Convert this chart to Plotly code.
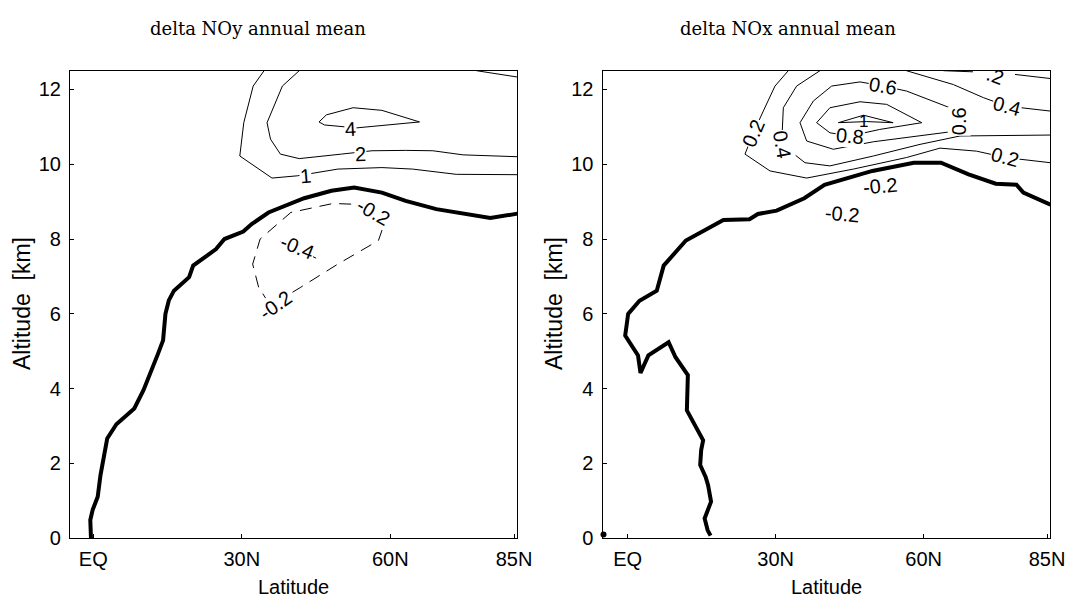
import plotly.graph_objects as go

# ---------------- data ----------------
lat_tickvals = [0, 30, 60, 85]
lat_ticktext = ["EQ", "30N", "60N", "85N"]
alt_tickvals = [0, 2, 4, 6, 8, 10, 12]

# Left panel: delta NOy, thick line (tropopause-like zero contour)
noy_thick_lat = [-0.46, -0.6, -0.12, 0.9, 1.46, 2.82, 4.67, 8.29, 10.14, 11.84, 13.07, 14.1, 14.58, 15.26,
                 16.3, 19.36, 20.18, 24.8, 26.5, 30.3, 32.0, 35.4, 42.6, 48.1, 52.7, 58.3, 63.1, 69.3,
                 74.7, 80.2, 85.7]
noy_thick_alt = [0.0, 0.49, 0.76, 1.11, 1.69, 2.67, 3.05, 3.47, 3.96, 4.49, 4.93, 5.29, 6.0, 6.36,
                 6.62, 6.98, 7.29, 7.73, 8.0, 8.2, 8.4, 8.71, 9.09, 9.29, 9.38, 9.24, 9.02, 8.8,
                 8.68, 8.56, 8.68]
noy_c1_lat = [34.5, 32.3, 30.4, 29.6, 36.1, 41.2, 49.4, 58.3, 64.5, 73.3, 85.7]
noy_c1_alt = [12.5, 12.09, 11.11, 10.22, 9.63, 9.69, 9.87, 9.91, 9.87, 9.73, 9.72]
noy_c2_lat = [41.6, 38.2, 35.1, 35.8, 37.8, 41.6, 50.1, 56.3, 63.1, 68.6, 74.7, 85.7]
noy_c2_alt = [12.5, 12.09, 11.11, 10.67, 10.27, 10.15, 10.27, 10.36, 10.37, 10.36, 10.25, 10.2]
noy_c4_lat = [45.6, 47.1, 52.5, 58.3, 65.9, 57.6, 53.1, 46.7, 45.6]
noy_c4_alt = [11.13, 11.32, 11.51, 11.44, 11.13, 11.02, 10.97, 11.05, 11.13]
noy_c4b_lat = [77.4, 85.7]
noy_c4b_alt = [12.5, 12.33]
noy_m02_lat = [33.4, 32.2, 33.7, 39.9, 48.4, 52.8, 56.6, 59.0, 57.6, 49.4, 41.9, 35.8, 33.4]
noy_m02_alt = [6.71, 7.33, 8.0, 8.71, 8.95, 8.93, 8.74, 8.49, 7.96, 7.33, 6.71, 6.22, 6.71]
noy_m04_lat = [37.8, 45.0]
noy_m04_alt = [7.93, 7.49]
noy_labels = ["4", "2", "1", "-0.2", "-0.4", "-0.2"]
noy_label_lat = [52.0, 53.9, 42.9, 56.6, 41.2, 36.8]
noy_label_alt = [10.93, 10.27, 9.69, 8.71, 7.78, 6.25]
noy_label_ang = [-3, -2, -5, 30, 22, -35]

# Right panel: delta NOx
nox_thick_lat = [16.8, 16.2, 15.6, 16.2, 16.9, 16.3, 15.8, 14.7, 14.9, 15.3, 13.5, 12.0, 12.2, 9.7, 8.3,
                 4.2, 2.6, 2.1, -0.5, 0.1, 2.4, 5.9, 7.3, 11.8, 19.4, 24.7, 26.4, 30.2, 35.8, 39.9,
                 49.6, 58.0, 63.5, 69.1, 74.6, 78.8, 80.2, 85.7]
nox_thick_alt = [0.07, 0.22, 0.53, 0.76, 0.98, 1.42, 1.64, 1.96, 2.36, 2.62, 3.07, 3.42, 4.36, 4.84, 5.24,
                 4.89, 4.42, 4.89, 5.42, 6.0, 6.35, 6.62, 7.29, 7.96, 8.51, 8.53, 8.67, 8.76, 9.09, 9.45,
                 9.82, 10.04, 10.04, 9.73, 9.48, 9.45, 9.24, 8.92]
nox_dot_lat = [-4.9]
nox_dot_alt = [0.1]
nox_c02_lat = [32.56, 29.86, 27.49, 25.47, 23.78, 28.85, 36.28, 45.74, 56.55, 63.3, 70.7, 76.5, 85.7]
nox_c02_alt = [12.5, 12.09, 11.42, 10.84, 10.27, 9.82, 9.63, 9.87, 10.18, 10.43, 10.35, 10.18, 10.04]
nox_c04_lat = [38.98, 34.25, 31.55, 31.21, 35.94, 41.0, 49.8, 59.25, 67.36, 85.7]
nox_c04_alt = [12.5, 12.09, 11.51, 10.53, 10.04, 9.955, 10.22, 10.53, 10.755, 10.78]
nox_c06_lat = [41.35, 47.09, 51.8, 56.55, 65.3, 67.2, 66.8, 59.25, 49.8, 41.68, 36.28, 34.93, 37.63, 41.35]
nox_c06_alt = [12.09, 12.2, 12.09, 11.955, 11.51, 11.155, 10.89, 10.755, 10.6, 10.4, 10.62, 11.11, 11.69, 12.09]
nox_c08_lat = [38.3, 41.0, 47.09, 52.5, 59.6, 51.1, 45.06, 41.0, 38.3]
nox_c08_alt = [11.11, 11.51, 11.67, 11.6, 11.11, 10.93, 10.755, 10.84, 11.11]
nox_c10_lat = [42.7, 47.8, 53.8, 48.4, 42.7]
nox_c10_alt = [11.11, 11.31, 11.11, 11.14, 11.11]
nox_c04b_lat = [56.5, 66.0, 72.1, 76.8, 85.7]
nox_c04b_alt = [12.5, 12.13, 11.78, 11.555, 11.42]
nox_c02b_lat = [64.0, 70.0]
nox_c02b_alt = [12.5, 12.47]
nox_c02c_lat = [78.5, 85.7]
nox_c02c_alt = [12.4, 12.29]
nox_m02_lat = [52.8, 54.5]
nox_m02_alt = [9.24, 9.17]
nox_labels = ["0.2", "0.4", "0.6", "0.6", "0.8", "1", "0.4", "0.2", "-0.2", "-0.2"]
nox_label_lat = [25.47, 31.21, 51.8, 67.2, 45.06, 47.8, 76.8, 76.5, 51.1, 43.4]
nox_label_alt = [10.84, 10.53, 12.09, 11.155, 10.755, 11.155, 11.555, 10.18, 9.42, 8.67]
nox_label_ang = [-67, 80, 10, -90, 5, 0, 15, 15, -5, 5]
nox_cut_label = ".2"
nox_cut_label_lat = 74.6
nox_cut_label_alt = 12.36

# ---------------- figure ----------------
W, H = 1067, 598
fig = go.Figure()

def line(x, y, xa, ya, width=1.0, dash="solid"):
    fig.add_trace(go.Scatter(x=x, y=y, xaxis=xa, yaxis=ya, mode="lines",
                             line=dict(color="black", width=width, dash=dash, shape="linear"),
                             hoverinfo="skip", showlegend=False))

# left
line(noy_thick_lat, noy_thick_alt, "x", "y", width=4)
line(noy_c1_lat, noy_c1_alt, "x", "y")
line(noy_c2_lat, noy_c2_alt, "x", "y")
line(noy_c4_lat, noy_c4_alt, "x", "y")
line(noy_c4b_lat, noy_c4b_alt, "x", "y")
line(noy_m02_lat, noy_m02_alt, "x", "y", dash="12px,8px")
line(noy_m04_lat, noy_m04_alt, "x", "y", dash="10px,8px")
# right
line(nox_thick_lat, nox_thick_alt, "x2", "y2", width=4)
fig.add_trace(go.Scatter(x=nox_dot_lat, y=nox_dot_alt, xaxis="x2", yaxis="y2", mode="markers",
                         marker=dict(color="black", size=6), hoverinfo="skip", showlegend=False,
                         cliponaxis=False))
line(nox_c02_lat, nox_c02_alt, "x2", "y2")
line(nox_c04_lat, nox_c04_alt, "x2", "y2")
line(nox_c06_lat, nox_c06_alt, "x2", "y2")
line(nox_c08_lat, nox_c08_alt, "x2", "y2")
line(nox_c10_lat, nox_c10_alt, "x2", "y2")
line(nox_c04b_lat, nox_c04b_alt, "x2", "y2")
line(nox_c02b_lat, nox_c02b_alt, "x2", "y2")
line(nox_c02c_lat, nox_c02c_alt, "x2", "y2")
line(nox_m02_lat, nox_m02_alt, "x2", "y2")

sans = "Liberation Sans, Arial, sans-serif"
serif = "DejaVu Serif, serif"

annotations = []
for t, la, al, ang in zip(noy_labels, noy_label_lat, noy_label_alt, noy_label_ang):
    annotations.append(dict(text=t, x=la, y=al, xref="x", yref="y", showarrow=False, textangle=ang,
                            font=dict(family=sans, size=20, color="black"), bgcolor="white", borderpad=0))
for t, la, al, ang in zip(nox_labels, nox_label_lat, nox_label_alt, nox_label_ang):
    annotations.append(dict(text=t, x=la, y=al, xref="x2", yref="y2", showarrow=False, textangle=ang,
                            font=dict(family=sans, size=20 if t != "1" else 17, color="black"),
                            bgcolor="white" if t != "1" else "rgba(0,0,0,0)", borderpad=0))
annotations.append(dict(text=nox_cut_label, x=nox_cut_label_lat, y=nox_cut_label_alt, xref="x2", yref="y2",
                        showarrow=False, textangle=20, font=dict(family=sans, size=20, color="black")))

def px(xp):
    return xp / W

def py(yp):
    return 1 - yp / H

annotations += [
    dict(text="delta NOy annual mean", x=px(258), y=py(29), xref="paper", yref="paper", showarrow=False,
         font=dict(family=serif, size=18, color="black"), xanchor="center", yanchor="middle"),
    dict(text="delta NOx annual mean", x=px(788), y=py(29), xref="paper", yref="paper", showarrow=False,
         font=dict(family=serif, size=18, color="black"), xanchor="center", yanchor="middle"),
    dict(text="Latitude", x=px(293.6), y=py(587), xref="paper", yref="paper", showarrow=False,
         font=dict(family=sans, size=20, color="black"), xanchor="center", yanchor="middle"),
    dict(text="Latitude", x=px(826), y=py(587), xref="paper", yref="paper", showarrow=False,
         font=dict(family=sans, size=20, color="black"), xanchor="center", yanchor="middle"),
    dict(text="Altitude  [km]", x=px(22), y=py(304), xref="paper", yref="paper", showarrow=False,
         textangle=-90, font=dict(family=sans, size=23, color="black"), xanchor="center", yanchor="middle"),
    dict(text="Altitude  [km]", x=px(554), y=py(304), xref="paper", yref="paper", showarrow=False,
         textangle=-90, font=dict(family=sans, size=23, color="black"), xanchor="center", yanchor="middle"),
]

xaxis_common = dict(tickmode="array", tickvals=lat_tickvals, ticktext=lat_ticktext, ticks="inside",
                    ticklen=4, tickwidth=1, tickcolor="black", showline=True, linecolor="black",
                    linewidth=1.2, mirror=True, showgrid=False, zeroline=False,
                    tickfont=dict(family=sans, size=20, color="black"), ticklabelstandoff=3)
yaxis_common = dict(tickmode="array", tickvals=alt_tickvals, ticks="inside", ticklen=4, tickwidth=1,
                    tickcolor="black", showline=True, linecolor="black", linewidth=1.2, mirror=True,
                    showgrid=False, zeroline=False, range=[0, 12.5],
                    tickfont=dict(family=sans, size=20, color="black"), ticklabelstandoff=4)

y_dom = [1 - 538.3 / H, 1 - 70.7 / H]
fig.update_layout(
    width=W, height=H, paper_bgcolor="white", plot_bgcolor="white",
    margin=dict(l=0, r=0, t=0, b=0, autoexpand=False),
    xaxis=dict(domain=[70 / W, 517.3 / W], range=[-4.7, 85.65], anchor="y", **xaxis_common),
    yaxis=dict(domain=y_dom, anchor="x", **yaxis_common),
    xaxis2=dict(domain=[602.5 / W, 1050 / W], range=[-5.1, 85.6], anchor="y2", **xaxis_common),
    yaxis2=dict(domain=y_dom, anchor="x2", **yaxis_common),
    annotations=annotations,
    showlegend=False,
)

fig.write_html("out.html", config={"displayModeBar": False},
               post_script="document.body.style.margin='0px';document.body.style.overflow='hidden';")
